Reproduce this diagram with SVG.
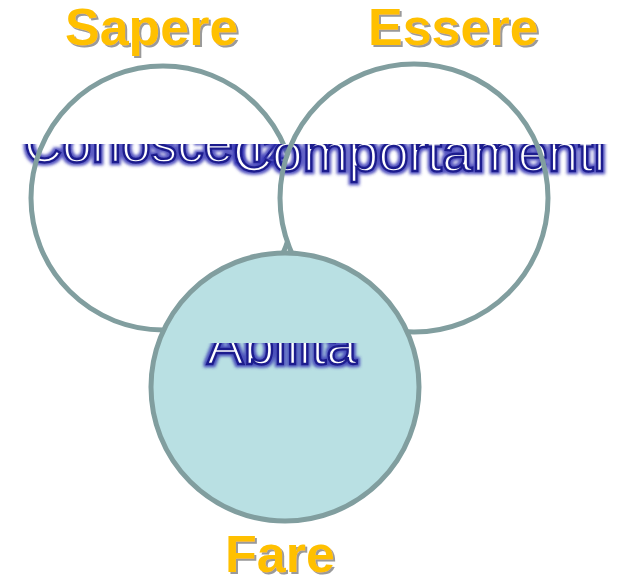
<svg xmlns="http://www.w3.org/2000/svg" width="621" height="579" viewBox="0 0 621 579">
  <defs>
    <style>
      .ring { fill: none; stroke: #819e9f; stroke-width: 5; }
      .title { font-family: "Liberation Sans", Arial, sans-serif; font-weight: bold; font-size: 52px; fill: #ffc000; }
      .label { font-family: "Liberation Sans", Arial, sans-serif; font-size: 53px; fill: #ffffff; stroke: #1e1e8e; stroke-width: 2.4; }
    </style>
    <filter id="halo" x="-10%" y="-40%" width="120%" height="180%">
      <feMorphology in="SourceAlpha" operator="dilate" radius="1.6" result="thick"/>
      <feGaussianBlur in="thick" stdDeviation="1.6" result="soft"/>
      <feFlood flood-color="#3535b5" flood-opacity="0.85"/>
      <feComposite in2="soft" operator="in" result="glow"/>
      <feMerge>
        <feMergeNode in="glow"/>
        <feMergeNode in="SourceGraphic"/>
      </feMerge>
    </filter>
    <filter id="shadow" x="-10%" y="-20%" width="125%" height="150%">
      <feDropShadow dx="2" dy="2" stdDeviation="0.6" flood-color="#9a9a9a"/>
    </filter>
    <clipPath id="clipTop">
      <rect x="0" y="144" width="621" height="60"/>
    </clipPath>
    <clipPath id="clipBottom">
      <rect x="0" y="343" width="621" height="60"/>
    </clipPath>
  </defs>

  <rect width="621" height="579" fill="#ffffff"/>

  <!-- Sapere: fill, label, outline -->
  <g id="sapere-circle">
    <circle cx="163" cy="198" r="132" fill="#ffffff"/>
    <g clip-path="url(#clipTop)">
      <text class="label" x="24" y="162" filter="url(#halo)">Conoscenze</text>
    </g>
    <circle class="ring" cx="163" cy="198" r="132"/>
  </g>

  <!-- Essere: fill, label, outline -->
  <g id="essere-circle">
    <circle cx="414" cy="198" r="134" fill="#ffffff"/>
    <g clip-path="url(#clipTop)">
      <text class="label" x="233" y="171" style="font-size:54.5px" filter="url(#halo)">Comportamenti</text>
    </g>
    <circle class="ring" cx="414" cy="198" r="134"/>
  </g>

  <!-- Fare: fill, label, outline -->
  <g id="fare-circle">
    <circle cx="285" cy="387" r="134" fill="#b9e0e3"/>
    <g clip-path="url(#clipBottom)">
      <text class="label" x="207" y="364" style="font-size:55px" filter="url(#halo)">Abilità</text>
    </g>
    <circle class="ring" cx="285" cy="387" r="134"/>
  </g>

  <!-- headings -->
  <g id="sapere">
    <text class="title" x="65" y="45" filter="url(#shadow)">Sapere</text>
  </g>
  <g id="essere">
    <text class="title" x="368" y="45" filter="url(#shadow)">Essere</text>
  </g>
  <g id="fare">
    <text class="title" x="225" y="572" filter="url(#shadow)">Fare</text>
  </g>
</svg>
